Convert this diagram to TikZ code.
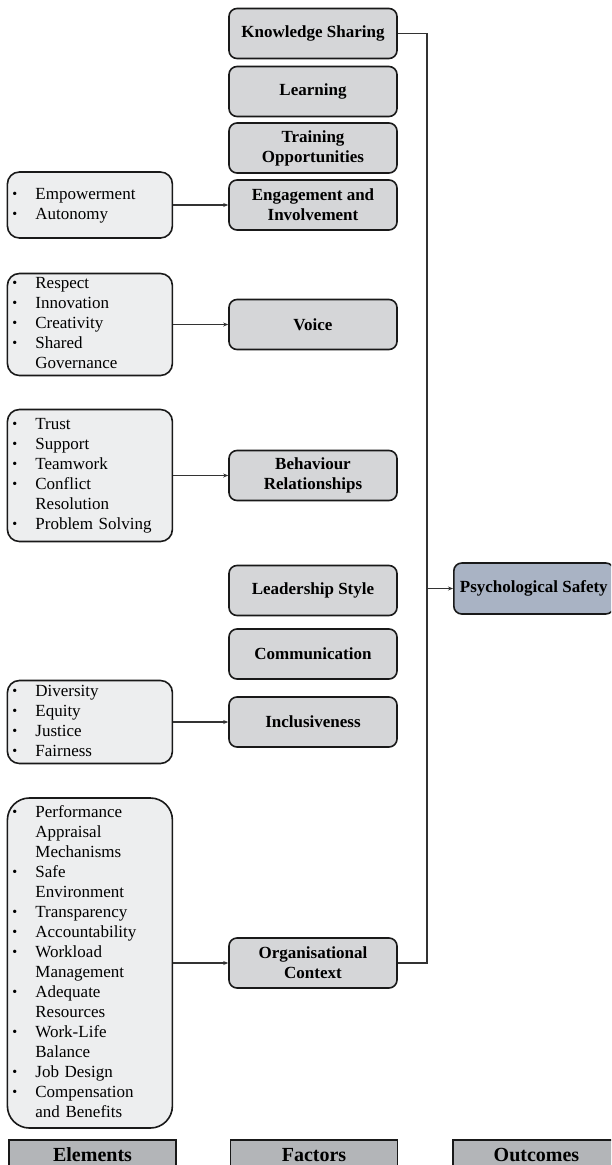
\documentclass[tikz,border=0pt]{standalone}
\usepackage{fontspec}
\setmainfont{Liberation Serif}
\usepackage{tikz}
\usetikzlibrary{positioning, arrows.meta, calc}
\definecolor{factorgray}{HTML}{D5D6D8}
\definecolor{elemgray}{HTML}{EDEEEF}
\definecolor{outblue}{HTML}{A9B3C4}
\definecolor{capgray}{HTML}{B3B5B8}
\newcommand{\bul}{{\fontsize{14}{14}\selectfont\raisebox{1pt}{•}}}
\tikzset{
	factor/.style={draw=black!90, line width=1.6pt, rounded corners=8pt, fill=factorgray, minimum width=168pt, minimum height=50pt, align=center, inner sep=2pt, font=\fontsize{17}{20}\selectfont\bfseries},
	elem/.style={draw=black!90, line width=1.6pt, rounded corners=12pt, fill=elemgray, text width=159pt, inner xsep=3pt, inner ysep=1pt, align=left, font=\fontsize{17}{20}\selectfont},
	outcome/.style={factor, fill=outblue, minimum width=160pt, minimum height=51pt},
	caption/.style={draw=black!90, line width=1.6pt, fill=capgray, minimum width=167pt, minimum height=40pt, text depth=10pt, anchor=north, font=\fontsize{20}{24}\selectfont\bfseries}
}

\begin{document}
\begin{tikzpicture}[x=1pt, y=-1pt, >={Stealth[length=5pt,width=4pt]}]
		
		% Page
		\fill[white] (0,0) rectangle (611,1165);
		\clip (0,0) rectangle (611,1165);
		
		% Factors
		\node[factor] (ks) at (313,33.5) {Knowledge Sharing};
		\node[factor] (learn) at (313,91.5) {Learning};
		\node[factor] (train) at (313,148) {Training\\Opportunities};
		\node[factor] (engage) at (313,205) {Engagement and\\Involvement};
		\node[factor] (voice) at (313,324.5) {Voice};
		\node[factor] (behav) at (313,475.5) {Behaviour\\Relationships};
		\node[factor] (lead) at (313,590.5) {Leadership Style};
		\node[factor] (comm) at (313,654) {Communication};
		\node[factor] (incl) at (313,722) {Inclusiveness};
		\node[factor] (org) at (313,963) {Organisational\\Context};
		
		% Elements
		\node[elem, minimum height=66pt, left=55pt of engage] (empw) {\begin{tabular}{@{\hspace{2pt}}p{23pt}@{}l@{}}
			\bul & Empowerment\\ \bul & Autonomy
		\end{tabular}};
		\node[elem, minimum height=102pt, left=55pt of voice] (resp) {\begin{tabular}{@{\hspace{2pt}}p{23pt}@{}l@{}}
			\bul & Respect\\ \bul & Innovation\\ \bul & Creativity\\ \bul & Shared\\ & Governance
		\end{tabular}};
		\node[elem, minimum height=132pt, left=55pt of behav] (trust) {\begin{tabular}{@{\hspace{2pt}}p{23pt}@{}l@{}}
			\bul & Trust\\ \bul & Support\\ \bul & Teamwork\\ \bul & Conflict\\ & Resolution\\ \bul & Problem Solving
		\end{tabular}};
		\node[elem, minimum height=83pt, left=55pt of incl] (divr) {\begin{tabular}{@{\hspace{2pt}}p{23pt}@{}l@{}}
			\bul & Diversity\\ \bul & Equity\\ \bul & Justice\\ \bul & Fairness
		\end{tabular}};
		\node[elem, minimum height=330pt, rounded corners=22pt, left=55pt of org] (perf) {\begin{tabular}{@{\hspace{2pt}}p{23pt}@{}l@{}}
			\bul & Performance\\ & Appraisal\\ & Mechanisms\\ \bul & Safe\\ & Environment\\ \bul & Transparency\\ \bul & Accountability\\ \bul & Workload\\ & Management\\ \bul & Adequate\\ & Resources\\ \bul & Work-Life\\ & Balance\\ \bul & Job Design\\ \bul & Compensation\\ & and Benefits
		\end{tabular}};
		
		% Outcome
		\node[outcome, anchor=west] (psych) at (453,588.5) {Psychological Safety};
		
		% Arrows from elements to factors
		\foreach \a/\b in {empw/engage, resp/voice, trust/behav, divr/incl, perf/org}
		\draw[->, line width=1.1pt, black!80] (\a.east) -- (\a.east -| \b.west);
		
		% Bus line to outcome
		\coordinate (bus) at ($(psych.west)+(-26,0)$);
		\draw[line width=1.2pt, black!80] (ks.east) -| (bus) |- (org.east);
		\draw[->, line width=1.1pt, black!80] (bus) -- (psych.west);
		
		% Column captions
		\node[caption] (elcap) at (92.5,1139) {Elements};
		\node[caption] (facap) at (314,1139) {Factors};
		\node[caption] (oucap) at (536.5,1139) {Outcomes};
		
	\end{tikzpicture}
\end{document}
